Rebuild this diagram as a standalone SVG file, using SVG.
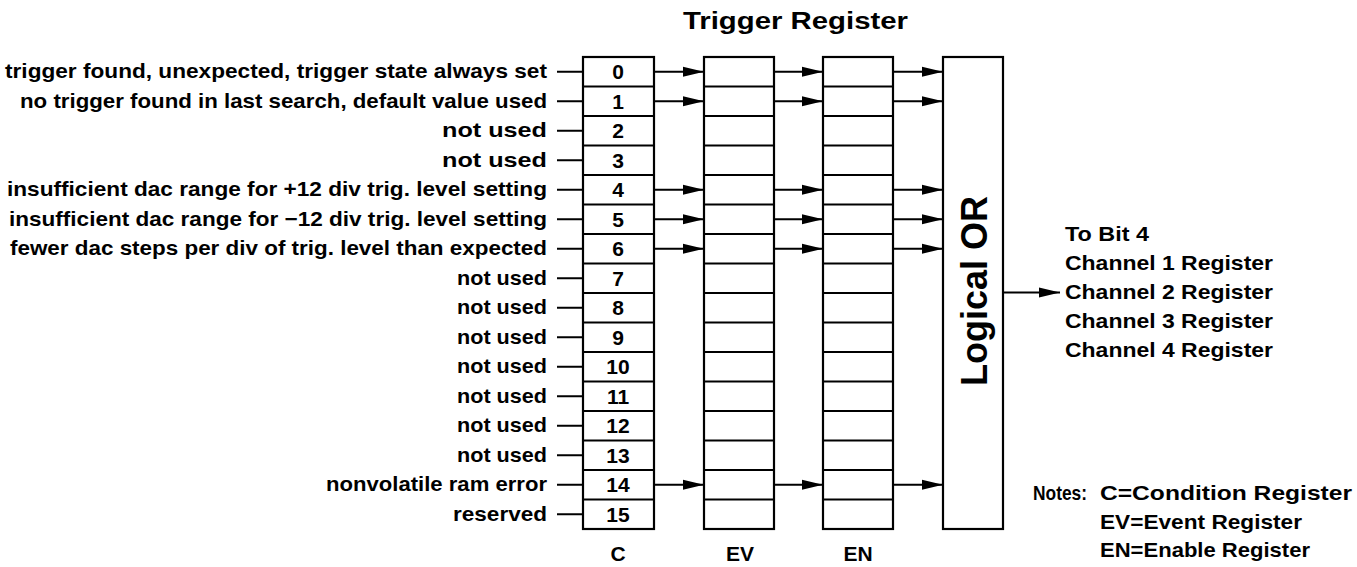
<svg xmlns="http://www.w3.org/2000/svg" width="1357" height="567" viewBox="0 0 1357 567">
<style>
  text { font-family: "Liberation Sans", Arial, sans-serif; fill: #000; font-weight: bold; }
  .lbl { font-size: 21px; }
  .num { font-size: 21px; text-anchor: middle; }
  .reg { fill: #fff; stroke: #000; stroke-width: 2.2; }
  .row { stroke: #000; stroke-width: 2; }
  .con { stroke: #000; stroke-width: 2; fill: none; }
  .arr { stroke: #000; stroke-width: 2; fill: none; marker-end: url(#ah); }
</style>
<defs>
  <marker id="ah" markerUnits="userSpaceOnUse" markerWidth="22" markerHeight="11" refX="21" refY="5.5" orient="auto">
    <path d="M0,0.5 L21,5.5 L0,10.5 z" fill="#000"/>
  </marker>
</defs>
<rect width="1357" height="567" fill="#fff"/>

<g id="title"><text x="683" y="29" font-size="23" textLength="225" lengthAdjust="spacingAndGlyphs">Trigger Register</text></g>

<g id="reg-C">
  <rect class="reg" x="583" y="57" width="71" height="472"/>
  <g class="row">
    <line x1="583" y1="86.5" x2="654" y2="86.5"/><line x1="583" y1="116" x2="654" y2="116"/><line x1="583" y1="145.5" x2="654" y2="145.5"/><line x1="583" y1="175" x2="654" y2="175"/><line x1="583" y1="204.5" x2="654" y2="204.5"/><line x1="583" y1="234" x2="654" y2="234"/><line x1="583" y1="263.5" x2="654" y2="263.5"/><line x1="583" y1="293" x2="654" y2="293"/><line x1="583" y1="322.5" x2="654" y2="322.5"/><line x1="583" y1="352" x2="654" y2="352"/><line x1="583" y1="381.5" x2="654" y2="381.5"/><line x1="583" y1="411" x2="654" y2="411"/><line x1="583" y1="440.5" x2="654" y2="440.5"/><line x1="583" y1="470" x2="654" y2="470"/><line x1="583" y1="499.5" x2="654" y2="499.5"/>
  </g>
  <g>
    <text class="num" x="618" y="79">0</text><text class="num" x="618" y="108.5">1</text><text class="num" x="618" y="138">2</text><text class="num" x="618" y="167.5">3</text><text class="num" x="618" y="197">4</text><text class="num" x="618" y="226.5">5</text><text class="num" x="618" y="256">6</text><text class="num" x="618" y="285.5">7</text><text class="num" x="618" y="315">8</text><text class="num" x="618" y="344.5">9</text><text class="num" x="618" y="374">10</text><text class="num" x="618" y="403.5">11</text><text class="num" x="618" y="433">12</text><text class="num" x="618" y="462.5">13</text><text class="num" x="618" y="492">14</text><text class="num" x="618" y="521.5">15</text>
  </g>
  <text class="num" x="618" y="561">C</text>
</g>

<g id="reg-EV">
  <rect class="reg" x="704" y="57" width="70" height="472"/>
  <g class="row">
    <line x1="704" y1="86.5" x2="774" y2="86.5"/><line x1="704" y1="116" x2="774" y2="116"/><line x1="704" y1="145.5" x2="774" y2="145.5"/><line x1="704" y1="175" x2="774" y2="175"/><line x1="704" y1="204.5" x2="774" y2="204.5"/><line x1="704" y1="234" x2="774" y2="234"/><line x1="704" y1="263.5" x2="774" y2="263.5"/><line x1="704" y1="293" x2="774" y2="293"/><line x1="704" y1="322.5" x2="774" y2="322.5"/><line x1="704" y1="352" x2="774" y2="352"/><line x1="704" y1="381.5" x2="774" y2="381.5"/><line x1="704" y1="411" x2="774" y2="411"/><line x1="704" y1="440.5" x2="774" y2="440.5"/><line x1="704" y1="470" x2="774" y2="470"/><line x1="704" y1="499.5" x2="774" y2="499.5"/>
  </g>
  <text class="num" x="740" y="561">EV</text>
</g>

<g id="reg-EN">
  <rect class="reg" x="823" y="57" width="70" height="472"/>
  <g class="row">
    <line x1="823" y1="86.5" x2="893" y2="86.5"/><line x1="823" y1="116" x2="893" y2="116"/><line x1="823" y1="145.5" x2="893" y2="145.5"/><line x1="823" y1="175" x2="893" y2="175"/><line x1="823" y1="204.5" x2="893" y2="204.5"/><line x1="823" y1="234" x2="893" y2="234"/><line x1="823" y1="263.5" x2="893" y2="263.5"/><line x1="823" y1="293" x2="893" y2="293"/><line x1="823" y1="322.5" x2="893" y2="322.5"/><line x1="823" y1="352" x2="893" y2="352"/><line x1="823" y1="381.5" x2="893" y2="381.5"/><line x1="823" y1="411" x2="893" y2="411"/><line x1="823" y1="440.5" x2="893" y2="440.5"/><line x1="823" y1="470" x2="893" y2="470"/><line x1="823" y1="499.5" x2="893" y2="499.5"/>
  </g>
  <text class="num" x="858" y="561">EN</text>
</g>

<g id="logical-or">
  <rect class="reg" x="943" y="57" width="60" height="472"/>
  <text x="0" y="0" font-size="36" text-anchor="middle" transform="translate(987,291) rotate(-90)">Logical OR</text>
</g>

<g id="labels">
  <text class="lbl" x="5" y="78" textLength="542" lengthAdjust="spacingAndGlyphs">trigger found, unexpected, trigger state always set</text>
  <text class="lbl" x="20" y="107.5" textLength="527" lengthAdjust="spacingAndGlyphs">no trigger found in last search, default value used</text>
  <text class="lbl" x="442" y="137" textLength="105" lengthAdjust="spacingAndGlyphs">not used</text>
  <text class="lbl" x="442" y="166.5" textLength="105" lengthAdjust="spacingAndGlyphs">not used</text>
  <text class="lbl" x="7" y="196" textLength="540" lengthAdjust="spacingAndGlyphs">insufficient dac range for +12 div trig. level setting</text>
  <text class="lbl" x="9" y="225.5" textLength="538" lengthAdjust="spacingAndGlyphs">insufficient dac range for −12 div trig. level setting</text>
  <text class="lbl" x="10" y="255" textLength="537" lengthAdjust="spacingAndGlyphs">fewer dac steps per div of trig. level than expected</text>
  <text class="lbl" x="457" y="284.5" textLength="90" lengthAdjust="spacingAndGlyphs">not used</text>
  <text class="lbl" x="457" y="314" textLength="90" lengthAdjust="spacingAndGlyphs">not used</text>
  <text class="lbl" x="457" y="343.5" textLength="90" lengthAdjust="spacingAndGlyphs">not used</text>
  <text class="lbl" x="457" y="373" textLength="90" lengthAdjust="spacingAndGlyphs">not used</text>
  <text class="lbl" x="457" y="402.5" textLength="90" lengthAdjust="spacingAndGlyphs">not used</text>
  <text class="lbl" x="457" y="432" textLength="90" lengthAdjust="spacingAndGlyphs">not used</text>
  <text class="lbl" x="457" y="461.5" textLength="90" lengthAdjust="spacingAndGlyphs">not used</text>
  <text class="lbl" x="326" y="491" textLength="221" lengthAdjust="spacingAndGlyphs">nonvolatile ram error</text>
  <text class="lbl" x="453" y="520.5" textLength="94" lengthAdjust="spacingAndGlyphs">reserved</text>
</g>

<g id="output-text">
  <text class="lbl" x="1065" y="241" textLength="84" lengthAdjust="spacingAndGlyphs">To Bit 4</text>
  <text class="lbl" x="1065" y="270" textLength="208" lengthAdjust="spacingAndGlyphs">Channel 1 Register</text>
  <text class="lbl" x="1065" y="299" textLength="208" lengthAdjust="spacingAndGlyphs">Channel 2 Register</text>
  <text class="lbl" x="1065" y="328" textLength="208" lengthAdjust="spacingAndGlyphs">Channel 3 Register</text>
  <text class="lbl" x="1065" y="357" textLength="208" lengthAdjust="spacingAndGlyphs">Channel 4 Register</text>
</g>

<g id="notes">
  <text class="lbl" x="1033" y="500" textLength="54" lengthAdjust="spacingAndGlyphs">Notes:</text>
  <text class="lbl" x="1100" y="500" textLength="252" lengthAdjust="spacingAndGlyphs">C=Condition Register</text>
  <text class="lbl" x="1100" y="528.5" textLength="202" lengthAdjust="spacingAndGlyphs">EV=Event Register</text>
  <text class="lbl" x="1100" y="557" textLength="210" lengthAdjust="spacingAndGlyphs">EN=Enable Register</text>
</g>

<g id="connectors">
  <g class="con">
    <line x1="557" y1="71.75" x2="583" y2="71.75"/><line x1="557" y1="101.25" x2="583" y2="101.25"/><line x1="557" y1="130.75" x2="583" y2="130.75"/><line x1="557" y1="160.25" x2="583" y2="160.25"/><line x1="557" y1="189.75" x2="583" y2="189.75"/><line x1="557" y1="219.25" x2="583" y2="219.25"/><line x1="557" y1="248.75" x2="583" y2="248.75"/><line x1="557" y1="278.25" x2="583" y2="278.25"/><line x1="557" y1="307.75" x2="583" y2="307.75"/><line x1="557" y1="337.25" x2="583" y2="337.25"/><line x1="557" y1="366.75" x2="583" y2="366.75"/><line x1="557" y1="396.25" x2="583" y2="396.25"/><line x1="557" y1="425.75" x2="583" y2="425.75"/><line x1="557" y1="455.25" x2="583" y2="455.25"/><line x1="557" y1="484.75" x2="583" y2="484.75"/><line x1="557" y1="514.25" x2="583" y2="514.25"/>
  </g>
  <g class="arr">
    <line x1="654" y1="71.75" x2="704" y2="71.75"/><line x1="774" y1="71.75" x2="823" y2="71.75"/><line x1="893" y1="71.75" x2="943" y2="71.75"/>
    <line x1="654" y1="101.25" x2="704" y2="101.25"/><line x1="774" y1="101.25" x2="823" y2="101.25"/><line x1="893" y1="101.25" x2="943" y2="101.25"/>
    <line x1="654" y1="189.75" x2="704" y2="189.75"/><line x1="774" y1="189.75" x2="823" y2="189.75"/><line x1="893" y1="189.75" x2="943" y2="189.75"/>
    <line x1="654" y1="219.25" x2="704" y2="219.25"/><line x1="774" y1="219.25" x2="823" y2="219.25"/><line x1="893" y1="219.25" x2="943" y2="219.25"/>
    <line x1="654" y1="248.75" x2="704" y2="248.75"/><line x1="774" y1="248.75" x2="823" y2="248.75"/><line x1="893" y1="248.75" x2="943" y2="248.75"/>
    <line x1="654" y1="484.75" x2="704" y2="484.75"/><line x1="774" y1="484.75" x2="823" y2="484.75"/><line x1="893" y1="484.75" x2="943" y2="484.75"/>
    <line x1="1003" y1="292.5" x2="1060" y2="292.5"/>
  </g>
</g>
</svg>
